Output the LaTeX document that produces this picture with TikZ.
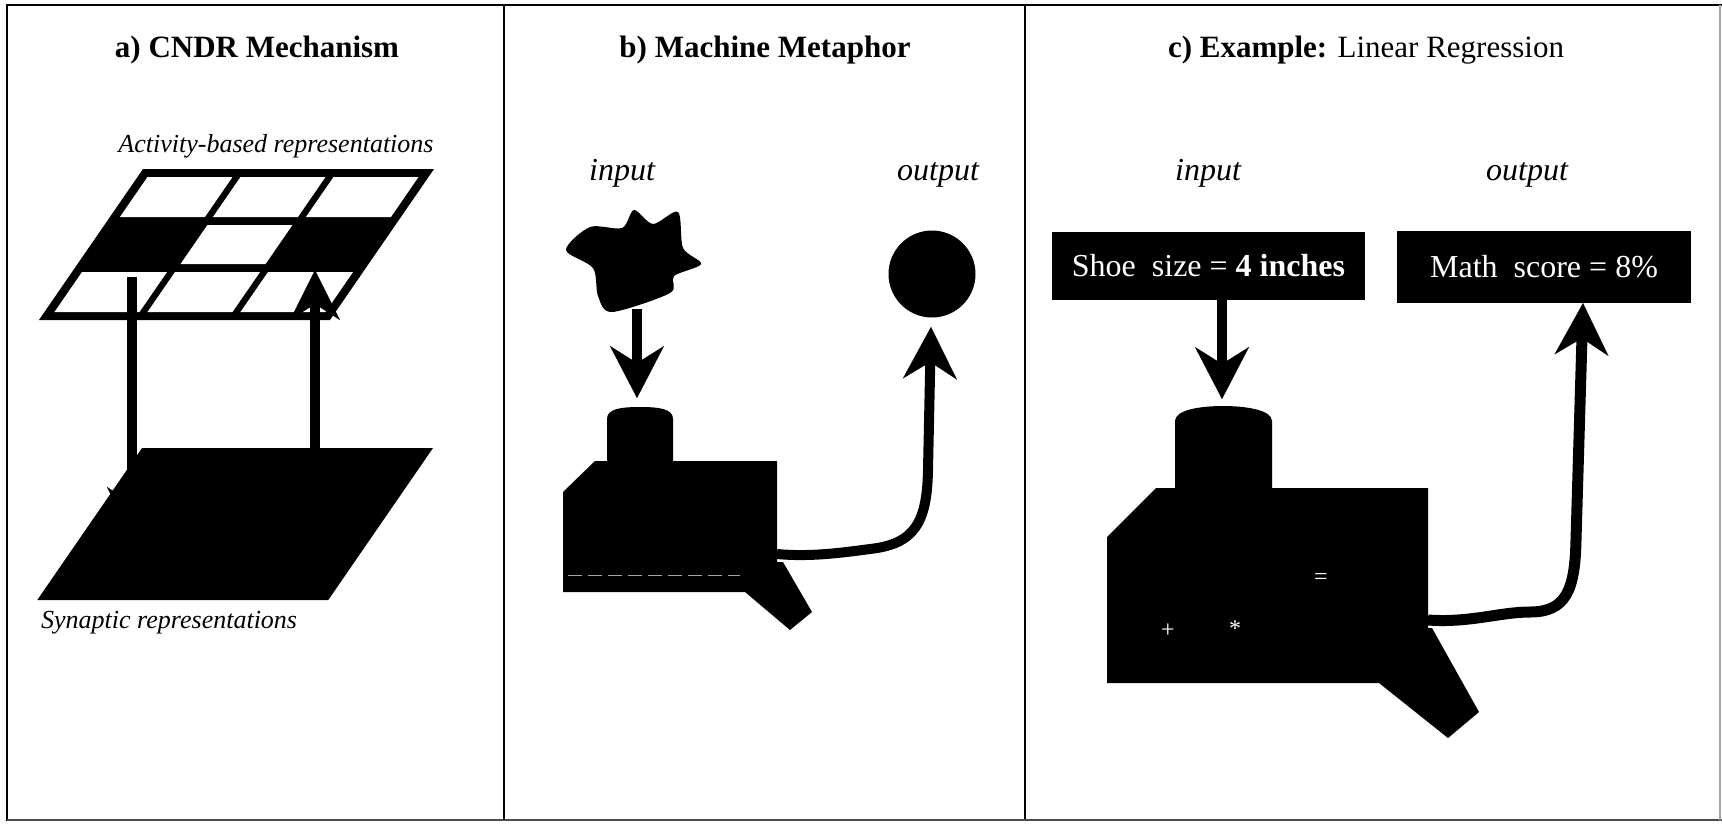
\documentclass[tikz,border=0pt]{standalone}
\usepackage{fontspec}
\setmainfont{Liberation Serif}
\usetikzlibrary{arrows.meta}

\begin{document}
\begin{tikzpicture}[x=1pt,y=-1pt,
  frameline/.style={line width=2pt},
  heading/.style={font=\fontsize{31}{36}\selectfont\bfseries, anchor=base, inner sep=0pt},
  tag/.style={font=\fontsize{32}{38}\selectfont\itshape, anchor=base, inner sep=0pt},
  layerlabel/.style={font=\fontsize{26}{30}\selectfont\itshape, anchor=base, inner sep=0pt},
  flow/.style={line width=10pt,
    -{Stealth[length=52pt,width=54pt,inset=17pt,line width=0.01pt]}},
  valuebox/.style={fill=black, text=white, font=\fontsize{32}{38}\selectfont, inner sep=0pt},
  opsym/.style={text=white, font=\fontsize{24}{28}\selectfont, inner sep=0pt},
  machine/.style={fill=black}
]
\useasboundingbox (0,0) rectangle (1722,823);

% ---------- frame and panel dividers ----------
\draw[frameline] (6,5) -- (1722,5);
\draw[frameline] (7,5) -- (7,821);
\draw[frameline] (504,5) -- (504,821);
\draw[frameline] (1025,5) -- (1025,821);
\draw[frameline, black!70] (7,820) -- (1722,820);
\draw[line width=1.5pt, black!35] (1720,5) -- (1720,820);

% ---------- headings ----------
\node[heading] (ta) at (257,57) {a) CNDR Mechanism};
\node[heading] (tb) at (765,57) {b) Machine Metaphor};
\node[heading] (tc) at (1366,57) {c) Example: \textmd{Linear Regression}};

% ---------- a) CNDR mechanism ----------
\node[layerlabel] (act) at (276,152) {Activity-based representations};
\node[layerlabel, anchor=base west] (syn) at (41,628) {Synaptic representations};

% activity layer: 3x3 grid on a slanted plane
\begin{scope}[shift={(143,169)}, xslant=0.689]
  \fill (0,0) rectangle (291,151);
  \fill[white] (10,8) rectangle (95,48);
  \fill[white] (103,8) rectangle (188,48);
  \fill[white] (196,8) rectangle (281,48);
  \fill[white] (103,56) rectangle (188,95);
  \fill[white] (10,103) rectangle (95,143);
  \fill[white] (103,103) rectangle (188,143);
  \fill[white] (196,103) rectangle (281,143);
\end{scope}

% synaptic layer: solid slanted plane
\begin{scope}[shift={(142,448)}, xslant=0.689]
  \fill (0,0) rectangle (291,152);
\end{scope}

\coordinate (actL) at (132,277);
\coordinate (synL) at (132,537);
\coordinate (synR) at (315,448);
\coordinate (actR) at (315,270);
\draw[flow, -{Stealth[length=50pt,width=50pt,inset=16pt,line width=0.01pt]}] (actL) -- (synL);
\draw[flow, -{Stealth[length=50pt,width=50pt,inset=16pt,line width=0.01pt]}] (synR) -- (actR);

% ---------- b) machine metaphor ----------
\node[tag] (inB) at (622,180) {input};
\node[tag] (outBl) at (938,180) {output};

% irregular input blob
\fill plot[smooth cycle, tension=0.5] coordinates {
  (566,250) (590,227) (622,228) (634,210) (653,224) (678,212)
  (683,248) (701,264) (674,276) (670,293) (612,312) (598,296)
  (593,268)};
\coordinate (blob) at (637,309);

% machine body with its intake
\fill[machine] (607,462) -- (607,419) .. controls (607,409) and (620,407) .. (640,407)
  .. controls (660,407) and (673,409) .. (673,419) -- (673,462) -- cycle;
\fill[machine] (595,461) -- (777,461) -- (777,562) -- (783,562) -- (812,612)
  -- (790,630) -- (745,592) -- (563,592) -- (563,492) -- cycle;
\draw[black!35, line width=1pt, dash pattern=on 14pt off 6pt] (568,575) -- (740,575);
\coordinate (intakeB) at (637,398);
\coordinate (portB) at (777,554);

\node[circle, fill=black, minimum size=87pt, inner sep=0pt] (outB) at (932,274) {};

\draw[flow] (blob) -- (intakeB);
\draw[flow] (portB) .. controls (810,557) and (840,553) .. (870,549)
  .. controls (915,544) and (927,522) .. (928,470) -- (931,327);

% ---------- c) linear regression example ----------
\node[tag] (inC) at (1208,180) {input};
\node[tag] (outC) at (1527,180) {output};

\node[valuebox, minimum width=313pt, minimum height=68pt] (shoe) at (1208.5,266)
  {Shoe\ \ size = \textbf{4 inches}};
\node[valuebox, minimum width=294pt, minimum height=72pt] (score) at (1544,267)
  {Math\ \ score = 8\%};

\fill[machine] (1175,488) -- (1175,421) .. controls (1175,410) and (1200,406) .. (1223,406)
  .. controls (1246,406) and (1272,410) .. (1272,421) -- (1272,488) -- cycle;
\fill[machine] (1156,488) -- (1428,488) -- (1428,628) -- (1432,628) -- (1479,712)
  -- (1448,738) -- (1379,683) -- (1107,683) -- (1107,537) -- cycle;
\node[opsym] (eq) at (1321,579) {=};
\node[opsym] (plus) at (1168,631) {+};
\node[opsym] (star) at (1235,629) {*};
\coordinate (intakeC) at (1222,399);
\coordinate (portC) at (1428,620);

\draw[flow] ([xshift=13.5pt]shoe.south) -- (intakeC);
\draw[flow, line width=11pt] (portC) .. controls (1470,623) and (1500,612) .. (1530,612)
  .. controls (1566,612) and (1575,590) .. (1576,540) -- ([xshift=39pt]score.south);

\end{tikzpicture}
\end{document}
